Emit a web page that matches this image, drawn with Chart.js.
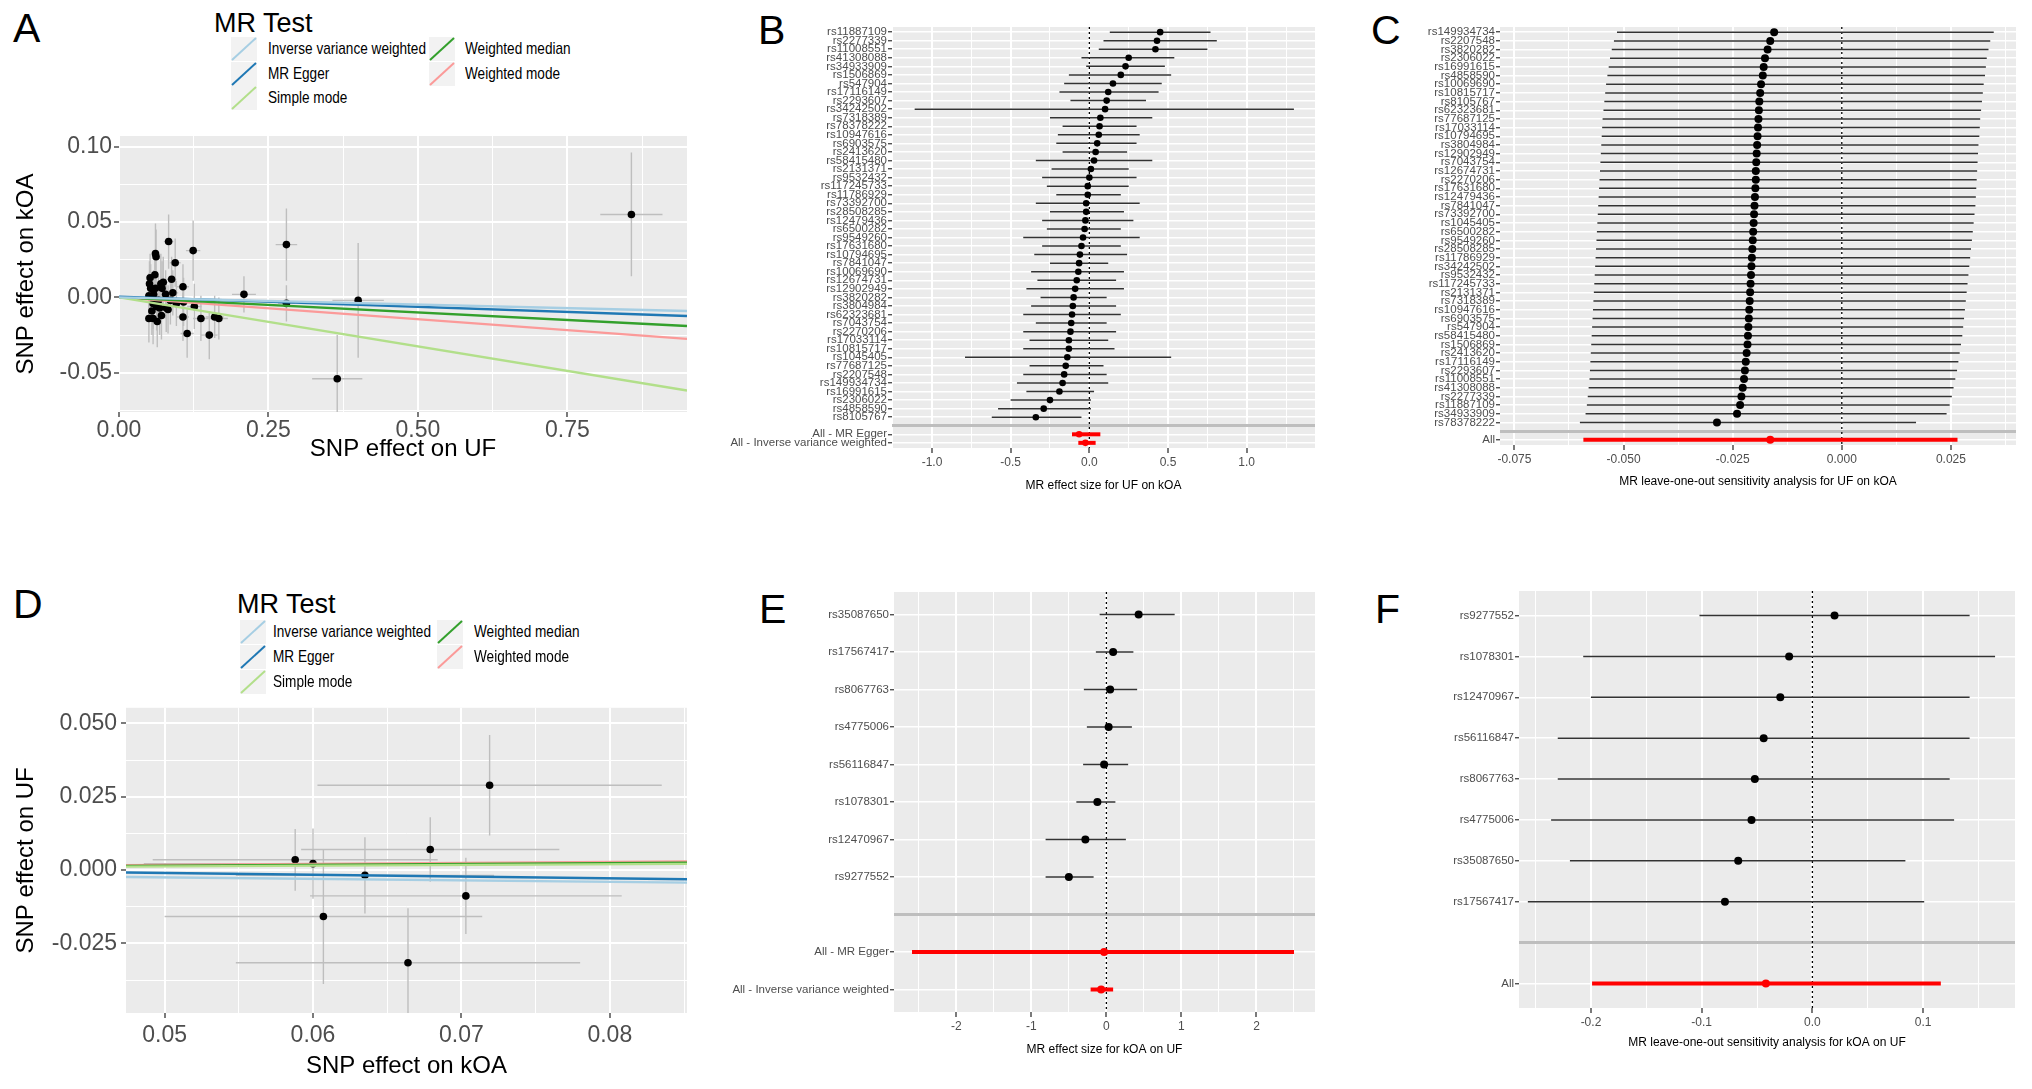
<!DOCTYPE html>
<html>
<head>
<meta charset="utf-8">
<script src="https://cdn.jsdelivr.net/npm/chart.js@4.4.1/dist/chart.umd.min.js"></script>
<style>
  body { margin: 0; background: #fff; width: 2032px; height: 1089px; position: relative; overflow: hidden;
         font-family: "Liberation Sans", Arial, sans-serif; }
  .box { position: absolute; }
  .tag { position: absolute; font-size: 41px; line-height: 1; color: #000; }
  .legTitle { position: absolute; font-size: 27px; line-height: 1; color: #000; }
  .legText { position: absolute; font-size: 17px; line-height: 1; color: #000; white-space: nowrap;
             transform: scaleX(0.8); transform-origin: 0 50%; }
  .legKey { position: absolute; }
</style>
</head>
<body>

<div class="tag" style="left:13px;top:8px">A</div>
<div class="tag" style="left:758px;top:10px">B</div>
<div class="tag" style="left:1371px;top:10px">C</div>
<div class="tag" style="left:13px;top:584px">D</div>
<div class="tag" style="left:759px;top:589px">E</div>
<div class="tag" style="left:1375px;top:589px">F</div>

<div class="box" style="left:12px;top:120px;width:687px;height:344px"><canvas id="chartA"></canvas></div>
<div class="box" style="left:700px;top:17px;width:627px;height:476px"><canvas id="chartB"></canvas></div>
<div class="box" style="left:1380px;top:17px;width:648px;height:472px"><canvas id="chartC"></canvas></div>
<div class="box" style="left:12px;top:690px;width:687px;height:391px"><canvas id="chartD"></canvas></div>
<div class="box" style="left:700px;top:582px;width:627px;height:475px"><canvas id="chartE"></canvas></div>
<div class="box" style="left:1400px;top:581px;width:627px;height:469px"><canvas id="chartF"></canvas></div>

<script>
// ---- data ----
const methods = ['Inverse variance weighted', 'MR Egger', 'Simple mode', 'Weighted median', 'Weighted mode'];
const methodColors = ['#A6CEE3', '#1F78B4', '#B2DF8A', '#33A02C', '#FB9A99'];

// A: UF -> kOA scatter
const aX   = [0.083, 0.124, 0.061, 0.062, 0.094, 0.052, 0.088, 0.051, 0.070, 0.061, 0.072, 0.107, 0.209, 0.050, 0.078, 0.086,
              0.108, 0.057, 0.063, 0.126, 0.068, 0.079, 0.050, 0.057, 0.107, 0.137, 0.160, 0.167, 0.114, 0.151, 0.857, 0.280,
              0.280, 0.400, 0.365, 0.058, 0.066, 0.074, 0.055, 0.090, 0.060, 0.082, 0.071, 0.096, 0.053, 0.064];
const aY   = [0.037, 0.031, 0.029, 0.027, 0.023, 0.013, 0.012, 0.009, 0.009, 0.006, 0.006, 0.007, 0.002, 0.001, 0.002, -0.002,
              -0.003, -0.004, -0.006, -0.006, -0.007, -0.007, -0.014, -0.014, -0.013, -0.014, -0.013, -0.014, -0.024, -0.025, 0.055, 0.035,
              -0.004, -0.002, -0.054, 0.002, -0.002, 0.010, -0.009, 0.003, 0.015, -0.008, -0.012, -0.004, 0.006, -0.016];
const aXse = [0.008, 0.012, 0.006, 0.007, 0.009, 0.005, 0.008, 0.005, 0.007, 0.006, 0.007, 0.010, 0.020, 0.005, 0.008, 0.008,
              0.010, 0.006, 0.006, 0.012, 0.007, 0.008, 0.005, 0.006, 0.010, 0.013, 0.015, 0.015, 0.011, 0.014, 0.052, 0.018,
              0.014, 0.043, 0.042, 0.006, 0.006, 0.007, 0.005, 0.009, 0.006, 0.008, 0.007, 0.009, 0.005, 0.006];
const aYse = [0.018, 0.020, 0.020, 0.018, 0.016, 0.016, 0.015, 0.015, 0.020, 0.016, 0.018, 0.015, 0.012, 0.015, 0.016, 0.016,
              0.016, 0.017, 0.016, 0.015, 0.018, 0.016, 0.016, 0.017, 0.016, 0.015, 0.014, 0.014, 0.016, 0.016, 0.041, 0.024,
              0.012, 0.038, 0.029, 0.016, 0.016, 0.017, 0.016, 0.015, 0.016, 0.016, 0.016, 0.015, 0.016, 0.017];
const aIntercept = [0, 0.0005, 0, 0, 0];
const aSlope     = [-0.0095, -0.0135, -0.065, -0.020, -0.029];

// B: forest, UF on kOA
const bSnps = ['rs11887109', 'rs2277339', 'rs11008551', 'rs41308088', 'rs34933909', 'rs1506869', 'rs547904', 'rs17116149',
               'rs2293607', 'rs34242502', 'rs7318389', 'rs78378222', 'rs10947616', 'rs6903575', 'rs2413620', 'rs58415480',
               'rs2131371', 'rs9532432', 'rs117245733', 'rs11786929', 'rs73392700', 'rs28508285', 'rs12479436', 'rs6500282',
               'rs9549260', 'rs17631680', 'rs10794695', 'rs7841047', 'rs10069690', 'rs12674731', 'rs12902949', 'rs3820282',
               'rs3804984', 'rs62323681', 'rs7043754', 'rs2270206', 'rs17033114', 'rs10815717', 'rs1045405', 'rs77687125',
               'rs2207548', 'rs149934734', 'rs16991615', 'rs2306022', 'rs4858590', 'rs8105767'];
const bEst = [0.45, 0.43, 0.42, 0.25, 0.23, 0.20, 0.15, 0.12, 0.11, 0.10, 0.07, 0.065, 0.06, 0.05, 0.04, 0.03,
              0.01, 0.00, -0.01, -0.01, -0.02, -0.02, -0.025, -0.03, -0.04, -0.05, -0.06, -0.065, -0.07, -0.08, -0.09, -0.10,
              -0.105, -0.11, -0.115, -0.12, -0.13, -0.13, -0.14, -0.15, -0.16, -0.17, -0.19, -0.25, -0.29, -0.34];
const bLo  = [0.13, 0.09, 0.06, -0.05, -0.02, -0.13, -0.16, -0.19, -0.12, -1.11, -0.25, -0.17, -0.20, -0.21, -0.17, -0.34,
              -0.24, -0.30, -0.27, -0.21, -0.34, -0.25, -0.30, -0.27, -0.42, -0.30, -0.35, -0.25, -0.37, -0.33, -0.40, -0.31,
              -0.37, -0.42, -0.34, -0.42, -0.38, -0.42, -0.79, -0.38, -0.42, -0.46, -0.40, -0.50, -0.58, -0.62];
const bHi  = [0.77, 0.81, 0.75, 0.54, 0.48, 0.52, 0.46, 0.44, 0.36, 1.30, 0.40, 0.30, 0.32, 0.30, 0.24, 0.40,
              0.25, 0.30, 0.25, 0.20, 0.32, 0.22, 0.28, 0.20, 0.32, 0.20, 0.24, 0.12, 0.22, 0.17, 0.22, 0.11,
              0.17, 0.20, 0.11, 0.17, 0.12, 0.16, 0.52, 0.09, 0.11, 0.12, 0.03, 0.01, 0.01, -0.05];
const bSumLabels = ['All - MR Egger', 'All - Inverse variance weighted'];
const bSumEst = [-0.065, -0.025];
const bSumLo  = [-0.11, -0.07];
const bSumHi  = [0.07, 0.04];

// C: leave-one-out, UF on kOA
const cSnps = ['rs149934734', 'rs2207548', 'rs3820282', 'rs2306022', 'rs16991615', 'rs4858590', 'rs10069690', 'rs10815717',
               'rs8105767', 'rs62323681', 'rs77687125', 'rs17033114', 'rs10794695', 'rs3804984', 'rs12902949', 'rs7043754',
               'rs12674731', 'rs2270206', 'rs17631680', 'rs12479436', 'rs7841047', 'rs73392700', 'rs1045405', 'rs6500282',
               'rs9549260', 'rs28508285', 'rs11786929', 'rs34242502', 'rs9532432', 'rs117245733', 'rs2131371', 'rs7318389',
               'rs10947616', 'rs6903575', 'rs547904', 'rs58415480', 'rs1506869', 'rs2413620', 'rs17116149', 'rs2293607',
               'rs11008551', 'rs41308088', 'rs2277339', 'rs11887109', 'rs34933909', 'rs78378222'];
const cEst = [-0.0155, -0.0164, -0.0170, -0.0176, -0.0179, -0.0181, -0.0185, -0.0187, -0.0189, -0.0190, -0.0191, -0.0192,
              -0.0193, -0.0194, -0.0195, -0.0196, -0.0197, -0.0197, -0.0198, -0.0199, -0.0200, -0.0201, -0.0202, -0.0203,
              -0.0204, -0.0205, -0.0206, -0.0207, -0.0208, -0.0209, -0.0210, -0.0211, -0.0212, -0.0213, -0.0214, -0.0215,
              -0.0216, -0.0218, -0.0220, -0.0222, -0.0224, -0.0227, -0.0230, -0.0233, -0.0240, -0.0286];
const cLo  = [-0.0515, -0.0522, -0.0527, -0.0531, -0.0534, -0.0537, -0.0540, -0.0542, -0.0544, -0.0546, -0.0548, -0.0549,
              -0.0550, -0.0551, -0.0552, -0.0553, -0.0554, -0.0555, -0.0556, -0.0557, -0.0558, -0.0559, -0.0560, -0.0561,
              -0.0562, -0.0563, -0.0564, -0.0565, -0.0566, -0.0567, -0.0568, -0.0569, -0.0570, -0.0571, -0.0572, -0.0573,
              -0.0574, -0.0575, -0.0576, -0.0577, -0.0578, -0.0580, -0.0582, -0.0584, -0.0587, -0.0600];
const cHi  = [0.0348, 0.0340, 0.0336, 0.0332, 0.0330, 0.0328, 0.0325, 0.0323, 0.0321, 0.0319, 0.0317, 0.0316,
              0.0315, 0.0313, 0.0312, 0.0311, 0.0310, 0.0309, 0.0308, 0.0307, 0.0306, 0.0304, 0.0302, 0.0300,
              0.0298, 0.0296, 0.0294, 0.0292, 0.0290, 0.0288, 0.0286, 0.0284, 0.0282, 0.0280, 0.0278, 0.0276,
              0.0273, 0.0270, 0.0267, 0.0264, 0.0260, 0.0256, 0.0252, 0.0247, 0.0240, 0.0170];
const cSumLabels = ['All'];
const cSumEst = [-0.0164];
const cSumLo  = [-0.0592];
const cSumHi  = [0.0265];

// D: kOA -> UF scatter
const dX   = [0.0719, 0.0679, 0.0588, 0.0600, 0.0635, 0.0703, 0.0607, 0.0664];
const dY   = [0.0289, 0.0070, 0.0035, 0.0022, -0.0018, -0.0088, -0.0158, -0.0316];
const dXse = [0.0116, 0.0087, 0.0096, 0.0114, 0.0087, 0.0105, 0.0107, 0.0116];
const dYse = [0.0171, 0.0110, 0.0105, 0.0120, 0.0130, 0.0130, 0.0230, 0.0186];
const dIntercept = [0, 0.002, 0, 0, 0];
const dSlope     = [-0.050, -0.060, 0.025, 0.030, 0.035];

// E: forest, kOA on UF
const eSnps = ['rs35087650', 'rs17567417', 'rs8067763', 'rs4775006', 'rs56116847', 'rs1078301', 'rs12470967', 'rs9277552'];
const eEst = [0.43, 0.09, 0.05, 0.03, -0.03, -0.12, -0.28, -0.50];
const eLo  = [-0.09, -0.14, -0.30, -0.26, -0.31, -0.40, -0.81, -0.81];
const eHi  = [0.91, 0.36, 0.41, 0.34, 0.29, 0.12, 0.26, -0.17];
const eSumLabels = ['All - MR Egger', 'All - Inverse variance weighted'];
const eSumEst = [-0.03, -0.07];
const eSumLo  = [-2.59, -0.21];
const eSumHi  = [2.50, 0.09];

// F: leave-one-out, kOA on UF
const fSnps = ['rs9277552', 'rs1078301', 'rs12470967', 'rs56116847', 'rs8067763', 'rs4775006', 'rs35087650', 'rs17567417'];
const fEst = [0.020, -0.021, -0.029, -0.044, -0.052, -0.055, -0.067, -0.079];
const fLo  = [-0.102, -0.207, -0.200, -0.230, -0.230, -0.236, -0.219, -0.257];
const fHi  = [0.142, 0.165, 0.142, 0.142, 0.124, 0.128, 0.084, 0.101];
const fSumLabels = ['All'];
const fSumEst = [-0.042];
const fSumLo  = [-0.199];
const fSumHi  = [0.116];

// ---- chart setup ----
Chart.defaults.font.family = "'Liberation Sans', Arial, sans-serif";
Chart.defaults.color = '#4D4D4D';
Chart.defaults.animation = false;
Chart.defaults.events = [];
Chart.defaults.plugins.legend.display = false;
Chart.defaults.plugins.tooltip.enabled = false;

const isMult = (v, m) => Math.abs(v / m - Math.round(v / m)) < 1e-6;
const fmt = (v, d) => (Math.abs(v) < 1e-12 ? 0 : v).toFixed(d);

// grey ggplot panel
const panelBg = {
  id: 'panelBg',
  beforeDraw(chart) {
    const { ctx, chartArea: a } = chart;
    ctx.save();
    ctx.fillStyle = '#EBEBEB';
    ctx.fillRect(a.left, a.top, a.right - a.left, a.bottom - a.top);
    ctx.restore();
  }
};

// error bars (and dotted zero line) under the points
const errorBars = {
  id: 'errorBars',
  beforeDatasetsDraw(chart, args, opts) {
    const { ctx, chartArea: a } = chart;
    const xs = chart.scales.x, ys = chart.scales.y;
    ctx.save();
    ctx.beginPath();
    ctx.rect(a.left, a.top, a.right - a.left, a.bottom - a.top);
    ctx.clip();
    if (opts.zeroLine) {
      const px = xs.getPixelForValue(0);
      ctx.setLineDash([2, 3]);
      ctx.strokeStyle = '#000';
      ctx.lineWidth = 1.3;
      ctx.beginPath(); ctx.moveTo(px, a.top); ctx.lineTo(px, a.bottom); ctx.stroke();
      ctx.setLineDash([]);
    }
    chart.data.datasets.forEach(ds => {
      if (!ds.errX && !ds.errY) return;
      ctx.strokeStyle = ds.errColor;
      ctx.lineWidth = ds.errWidth;
      ds.data.forEach((p, i) => {
        ctx.beginPath();
        if (ds.errX) {
          const py = ys.getPixelForValue(p.y);
          ctx.moveTo(xs.getPixelForValue(ds.errX[i][0]), py);
          ctx.lineTo(xs.getPixelForValue(ds.errX[i][1]), py);
        }
        if (ds.errY) {
          const px = xs.getPixelForValue(p.x);
          ctx.moveTo(px, ys.getPixelForValue(ds.errY[i][0]));
          ctx.lineTo(px, ys.getPixelForValue(ds.errY[i][1]));
        }
        ctx.stroke();
      });
    });
    ctx.restore();
  }
};

function numAxis(o) {
  return {
    type: 'linear', min: o.min, max: o.max,
    afterFit: s => { if (s.isHorizontal()) s.height = o.size; else s.width = o.size; },
    border: { display: false },
    grid: {
      color: '#FFFFFF',
      lineWidth: c => isMult(c.tick.value, o.major) ? 2 : 1,
      tickColor: c => isMult(c.tick.value, o.major) ? '#333333' : 'rgba(0,0,0,0)',
      tickLength: 5, tickWidth: 1.3
    },
    ticks: {
      stepSize: o.step, autoSkip: false, maxRotation: 0, includeBounds: false,
      padding: o.pad, font: { size: o.font }, color: '#4D4D4D',
      callback: v => isMult(v, o.major) ? fmt(v, o.dec) : ''
    },
    title: o.title
      ? { display: true, text: o.title, color: '#000', font: { size: o.titleSize }, padding: 0 }
      : { display: false }
  };
}

function rowAxis(rows, sep, width) {
  return {
    type: 'linear', min: -0.6, max: rows.length - 1 + 0.6, reverse: true,
    afterFit: s => { s.width = width; },
    border: { display: false },
    grid: {
      color: c => c.tick.value === sep ? '#BEBEBE' : '#FFFFFF',
      lineWidth: c => c.tick.value === sep ? 3 : 1.5,
      tickColor: c => c.tick.value === sep ? 'rgba(0,0,0,0)' : '#333333',
      tickLength: 4, tickWidth: 1.2
    },
    ticks: {
      stepSize: 1, autoSkip: false, includeBounds: false, padding: 1, font: { size: 11.5 }, color: '#4D4D4D',
      callback: v => rows[v] || ''
    }
  };
}

function scatterChart(id, x, y, xse, yse, intercept, slope, xAxis, yAxis) {
  const lineData = intercept.map((a, i) => ({
    label: methods[i],
    data: [xAxis.min, xAxis.max].map(v => ({ x: v, y: a + slope[i] * v })),
    showLine: true, borderColor: methodColors[i], borderWidth: 2.4, pointRadius: 0
  }));
  new Chart(document.getElementById(id), {
    type: 'scatter',
    data: {
      datasets: lineData.concat([{
        label: 'SNP',
        data: x.map((v, i) => ({ x: v, y: y[i] })),
        pointRadius: 3.8, backgroundColor: '#000', borderWidth: 0,
        errX: x.map((v, i) => [v - xse[i], v + xse[i]]),
        errY: y.map((v, i) => [v - yse[i], v + yse[i]]),
        errColor: '#BEBEBE', errWidth: 1.4
      }])
    },
    options: {
      maintainAspectRatio: false,
      layout: { padding: { top: 16, right: 12, left: 0, bottom: 0 } },
      scales: { x: numAxis(xAxis), y: numAxis(yAxis) },
      plugins: { errorBars: { zeroLine: false } }
    },
    plugins: [panelBg, errorBars]
  });
}

function forestChart(id, snps, est, lo, hi, sumLabels, sumEst, sumLo, sumHi, xAxis, yWidth, pr) {
  const sep = snps.length;
  const rows = snps.concat([''], sumLabels);
  new Chart(document.getElementById(id), {
    type: 'scatter',
    data: {
      datasets: [
        {
          label: 'All',
          data: sumEst.map((v, i) => ({ x: v, y: sep + 1 + i })),
          pointRadius: pr, backgroundColor: '#FF0000', borderWidth: 0,
          errX: sumEst.map((v, i) => [sumLo[i], sumHi[i]]), errColor: '#FF0000', errWidth: 4
        },
        {
          label: 'SNP',
          data: est.map((v, i) => ({ x: v, y: i })),
          pointRadius: pr, backgroundColor: '#000', borderWidth: 0,
          errX: est.map((v, i) => [lo[i], hi[i]]), errColor: '#333333', errWidth: 1.5
        }
      ]
    },
    options: {
      maintainAspectRatio: false,
      layout: { padding: { top: 10, right: 12, left: 0, bottom: 0 } },
      scales: { x: numAxis(xAxis), y: rowAxis(rows, sep, yWidth) },
      plugins: { errorBars: { zeroLine: true } }
    },
    plugins: [panelBg, errorBars]
  });
}

scatterChart('chartA', aX, aY, aXse, aYse, aIntercept, aSlope,
  { min: 0, max: 0.95, step: 0.125, major: 0.25, dec: 2, size: 52, pad: 0, font: 23, title: 'SNP effect on UF', titleSize: 24 },
  { min: -0.076, max: 0.107, step: 0.025, major: 0.05, dec: 2, size: 107, pad: 2, font: 23, title: 'SNP effect on kOA', titleSize: 24 });

scatterChart('chartD', dX, dY, dXse, dYse, dIntercept, dSlope,
  { min: 0.0474, max: 0.0852, step: 0.005, major: 0.01, dec: 2, size: 68, pad: 4, font: 23, title: 'SNP effect on kOA', titleSize: 24 },
  { min: -0.0487, max: 0.0553, step: 0.0125, major: 0.025, dec: 3, size: 114, pad: 4, font: 23, title: 'SNP effect on UF', titleSize: 24 });

forestChart('chartB', bSnps, bEst, bLo, bHi, bSumLabels, bSumEst, bSumLo, bSumHi,
  { min: -1.254, max: 1.434, step: 0.25, major: 0.5, dec: 1, size: 45, pad: 2, font: 12, title: 'MR effect size for UF on kOA', titleSize: 12 },
  192, 3.3);

forestChart('chartC', cSnps, cEst, cLo, cHi, cSumLabels, cSumEst, cSumLo, cSumHi,
  { min: -0.0783, max: 0.0399, step: 0.0125, major: 0.025, dec: 3, size: 44, pad: 2, font: 12, title: 'MR leave-one-out sensitivity analysis for UF on kOA', titleSize: 12 },
  120, 4);

forestChart('chartE', eSnps, eEst, eLo, eHi, eSumLabels, eSumEst, eSumLo, eSumHi,
  { min: -2.83, max: 2.78, step: 0.5, major: 1, dec: 0, size: 45, pad: 2, font: 12, title: 'MR effect size for kOA on UF', titleSize: 12 },
  194, 4);

forestChart('chartF', fSnps, fEst, fLo, fHi, fSumLabels, fSumEst, fSumLo, fSumHi,
  { min: -0.265, max: 0.183, step: 0.05, major: 0.1, dec: 1, size: 42, pad: 2, font: 12, title: 'MR leave-one-out sensitivity analysis for kOA on UF', titleSize: 12 },
  119, 4);

// ---- "MR Test" legends ----
function makeLegend(titleLeft, titleMid, rowMids, keyLefts, textLefts) {
  const t = document.createElement('div');
  t.className = 'legTitle';
  t.textContent = 'MR Test';
  t.style.left = titleLeft + 'px';
  t.style.top = (titleMid - 13) + 'px';
  document.body.appendChild(t);
  methods.forEach((m, i) => {
    const col = Math.floor(i / 3), row = i % 3;
    const key = document.createElementNS('http://www.w3.org/2000/svg', 'svg');
    key.setAttribute('class', 'legKey');
    key.setAttribute('width', 26); key.setAttribute('height', 24);
    key.style.left = keyLefts[col] + 'px';
    key.style.top = (rowMids[row] - 12) + 'px';
    key.innerHTML = '<rect x="0" y="0" width="26" height="24" fill="#F2F2F2"/>' +
      '<line x1="1" y1="23" x2="25" y2="1" stroke="' + methodColors[i] + '" stroke-width="2"/>';
    document.body.appendChild(key);
    const txt = document.createElement('div');
    txt.className = 'legText';
    txt.textContent = m;
    txt.style.left = textLefts[col] + 'px';
    txt.style.top = (rowMids[row] - 9) + 'px';
    document.body.appendChild(txt);
  });
}
makeLegend(214, 23, [49, 74, 98], [231, 429], [268, 465]);
makeLegend(237, 604, [632, 657, 682], [240, 437], [273, 474]);
</script>
</body>
</html>
